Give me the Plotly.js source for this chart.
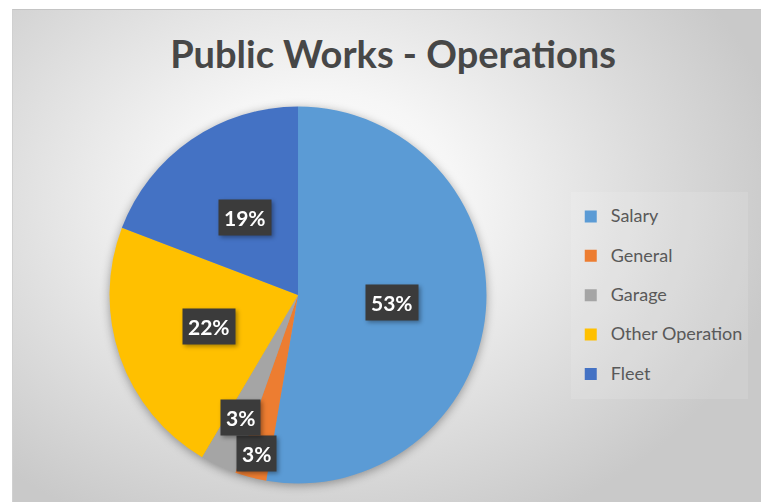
<!DOCTYPE html>
<html>
<head>
<meta charset="utf-8">
<script src="https://cdn.plot.ly/plotly-3.0.1.min.js"></script>
<style>
  html, body { margin: 0; padding: 0; background: #ffffff; }
  #wrap { position: relative; width: 761px; height: 502px; overflow: hidden; background: #ffffff; }
  #bg { position: absolute; left: 12px; top: 9px; width: 760px; height: 500px;
        border-top: 1px solid #c4c4c4; border-left: 1px solid #d0d0d0;
        background: radial-gradient(ellipse 62% 72% at 40% 38%, #ffffff 0%, #f6f6f6 30%, #dcdcdc 70%, #c9c9c9 100%); }
  #chart { position: absolute; left: 0; top: 0; width: 761px; height: 502px; }
  #chart .pielayer .trace { filter: drop-shadow(0px 2px 5px rgba(0,0,0,0.35)); }
  #chart .annotation { filter: drop-shadow(2px 2px 2px rgba(0,0,0,0.35)); }
</style>
</head>
<body>
<div id="wrap"><div id="bg"></div><div id="chart"></div></div>
<script>
// ---- data ----
const categories = ["Salary", "General", "Garage", "Other Operation", "Fleet"];
const values = [52.7, 2.7, 3.1, 22.3, 19.2];
const colors = ["#5B9BD5", "#ED7D31", "#A5A5A5", "#FFC000", "#4472C4"];
const chartTitle = "Public Works - Operations";

// ---- label placement (fraction of radius, like Excel's best-fit) ----
const labelRadius = [0.5, 0.87, 0.72, 0.5, 0.5];

const W = 761, H = 502;
const domX = [0.1439, 0.6393];
const domY = [0.0369, 0.7878];

// pie centre and radius in pixels derived from the domain
const cxPx = (domX[0] + domX[1]) / 2 * W;
const cyPx = (1 - (domY[0] + domY[1]) / 2) * H;
const Rpx = Math.min((domX[1] - domX[0]) * W, (domY[1] - domY[0]) * H) / 2;

const total = values.reduce((a, b) => a + b, 0);
let cum = 0;
const annotations = values.map((v, i) => {
  const mid = (cum + v / 2) / total;
  cum += v;
  const th = mid * 2 * Math.PI;
  const r = labelRadius[i] * Rpx;
  const px = cxPx + r * Math.sin(th);
  const py = cyPx - r * Math.cos(th);
  return {
    xref: "paper", yref: "paper",
    x: px / W, y: 1 - py / H,
    xanchor: "center", yanchor: "middle",
    text: Math.round(v / total * 100) + "%",
    showarrow: false,
    font: { family: "Lato, 'Open Sans', sans-serif", size: 21, color: "#ffffff", weight: "bold" },
    bgcolor: "#3b3b3b",
    borderpad: 5
  };
});

const legendLabels = categories.map(c => '<span style="font-size:18px;baseline-shift:5px">' + c + '</span>');

const trace = {
  type: "pie",
  labels: legendLabels,
  values: values,
  sort: false,
  direction: "clockwise",
  rotation: 0,
  marker: { colors: colors, line: { width: 0 } },
  textinfo: "none",
  hoverinfo: "percent",
  domain: { x: domX, y: domY },
  showlegend: true
};

const layout = {
  width: W, height: H,
  margin: { l: 0, r: 0, t: 0, b: 0 },
  paper_bgcolor: "rgba(0,0,0,0)",
  plot_bgcolor: "rgba(0,0,0,0)",
  font: { family: "Lato, 'Open Sans', sans-serif", color: "#595959" },
  title: {
    text: "<b>" + chartTitle + "</b>",
    x: 393 / W, xanchor: "center",
    y: 1 - 55 / H, yanchor: "middle",
    font: { family: "Lato, 'Open Sans', sans-serif", size: 38, color: "#474747" }
  },
  legend: {
    x: 0.75, xanchor: "left",
    y: 0.412, yanchor: "middle",
    font: { size: 28, color: "#595959", family: "Lato, 'Open Sans', sans-serif" },
    bgcolor: "rgba(255,255,255,0.12)",
    traceorder: "normal"
  },
  annotations: annotations
};

Plotly.newPlot("chart", [trace], layout, { staticPlot: true, displayModeBar: false });
</script>
</body>
</html>
